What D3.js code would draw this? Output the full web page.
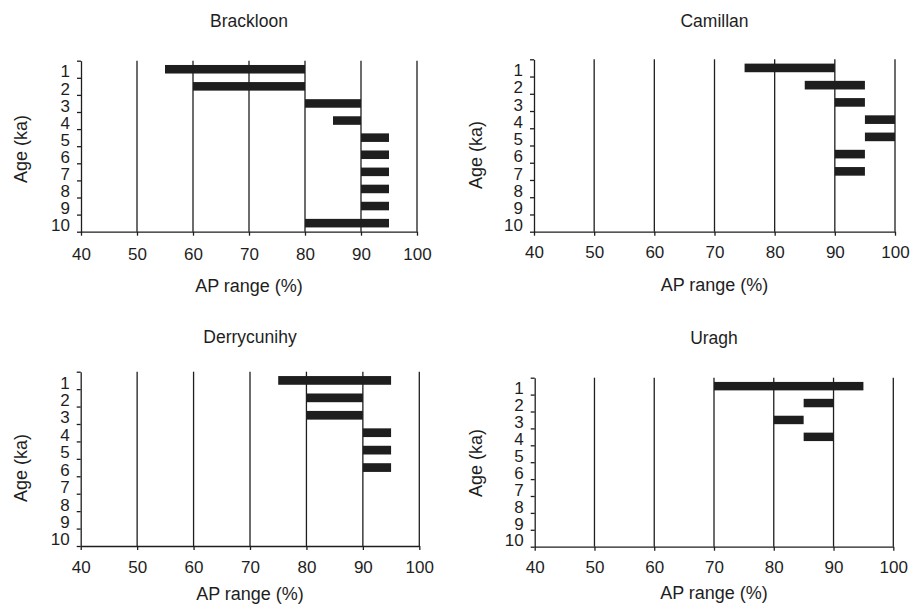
<!DOCTYPE html>
<html>
<head>
<meta charset="utf-8">
<script src="https://cdn.jsdelivr.net/npm/d3@7"></script>
<style>
  body { margin: 0; background: #fff; }
  svg { display: block; font-family: "Liberation Sans", Arial, sans-serif; }
</style>
</head>
<body>
<svg id="chart" width="912" height="606"></svg>
<script>
var width = 912,
    height = 606;

// tick labels
var ages = [1, 2, 3, 4, 5, 6, 7, 8, 9, 10];
var xTicks = [40, 50, 60, 70, 80, 90, 100];
var sites = ['Brackloon', 'Camillan', 'Derrycunihy', 'Uragh'];

// AP range (%) per age, low and high end (null = no bar)
var brackloonLow  = [55, 60, 80, 85, 90, 90, 90, 90, 90, 80];
var brackloonHigh = [80, 80, 90, 90, 95, 95, 95, 95, 95, 95];
var camillanLow   = [75, 85, 90, 95, 95, 90, 90, null, null, null];
var camillanHigh  = [90, 95, 95, 100, 100, 95, 95, null, null, null];
var derryLow      = [75, 80, 80, 90, 90, 90, null, null, null, null];
var derryHigh     = [95, 90, 90, 95, 95, 95, null, null, null, null];
var uraghLow      = [70, 85, 80, 85, null, null, null, null, null, null];
var uraghHigh     = [95, 90, 85, 90, null, null, null, null, null, null];

var lows = [brackloonLow, camillanLow, derryLow, uraghLow];
var highs = [brackloonHigh, camillanHigh, derryHigh, uraghHigh];

// panel placement
var panels = [
    { left: 81, right: 417, top: 60.7, bottom: 231.7, titleY: 26.7, labY: 260.5, xTitleY: 291.5, yTitleX: 27, yTitleY: 149 },
    { left: 534, right: 895, top: 59.3, bottom: 231.7, titleY: 26.7, labY: 258.3, xTitleY: 290.7, yTitleX: 482, yTitleY: 155 },
    { left: 80.7, right: 419.3, top: 371.7, bottom: 546, titleY: 343.3, labY: 572.7, xTitleY: 600, yTitleX: 27, yTitleY: 468 },
    { left: 534.7, right: 893.3, top: 377.7, bottom: 546.7, titleY: 344, labY: 572.7, xTitleY: 598.5, yTitleX: 482, yTitleY: 463 }
];

var ink = '#1e1e1e';
var svg = d3.select('#chart');

panels.forEach(function (p, i) {
    var g = svg.append('g');

    var x = d3.scaleLinear().domain([40, 100]).range([p.left, p.right]);
    var y = d3.scaleLinear().domain([0.5, 10.5]).range([p.top, p.bottom]);

    // vertical grid lines
    g.selectAll('line.grid')
        .data(xTicks.slice(1))
        .enter()
        .append('line')
        .attr('class', 'grid')
        .attr('x1', d => x(d))
        .attr('x2', d => x(d))
        .attr('y1', p.top)
        .attr('y2', p.bottom)
        .attr('stroke', ink)
        .attr('stroke-width', 1.3);

    // bars
    var rows = ages.map(function (a, k) {
        return { age: a, lo: lows[i][k], hi: highs[i][k] };
    }).filter(d => d.lo != null);

    g.selectAll('rect')
        .data(rows)
        .enter()
        .append('rect')
        .attr('x', d => x(d.lo))
        .attr('width', d => x(d.hi) - x(d.lo))
        .attr('y', d => y(d.age - 0.25))
        .attr('height', d => y(d.age + 0.25) - y(d.age - 0.25))
        .attr('fill', ink);

    // x axis
    var xAxis = g.append('g')
        .attr('transform', 'translate(0,' + p.bottom + ')')
        .call(d3.axisBottom(x).tickValues(xTicks).tickSize(4).tickSizeOuter(0));
    xAxis.select('.domain').attr('stroke', ink).attr('stroke-width', 1.3);
    xAxis.selectAll('.tick line').attr('stroke', ink).attr('stroke-width', 1.3);
    xAxis.selectAll('.tick text')
        .attr('y', p.labY - p.bottom)
        .attr('dy', null)
        .attr('font-size', 17)
        .attr('font-family', null)
        .attr('fill', ink);

    // y axis: ticks on band edges
    var yAxis = g.append('g')
        .attr('transform', 'translate(' + p.left + ',0)')
        .call(d3.axisLeft(y).tickValues(d3.range(0.5, 11, 1)).tickSize(4).tickSizeOuter(0).tickFormat(''));
    yAxis.select('.domain').attr('stroke', ink).attr('stroke-width', 1.3);
    yAxis.selectAll('.tick line').attr('stroke', ink).attr('stroke-width', 1.3);

    // y labels in the band centres
    var yLab = g.append('g')
        .attr('transform', 'translate(' + p.left + ',0)')
        .call(d3.axisLeft(y).tickValues(ages).tickSize(0).tickPadding(11));
    yLab.select('.domain').remove();
    yLab.selectAll('.tick text')
        .attr('dy', '0.45em')
        .attr('font-size', 17)
        .attr('font-family', null)
        .attr('fill', ink);

    // titles
    g.append('text')
        .attr('x', (p.left + p.right) / 2)
        .attr('y', p.titleY)
        .attr('text-anchor', 'middle')
        .attr('font-size', 17.5)
        .attr('fill', ink)
        .text(sites[i]);

    g.append('text')
        .attr('x', (p.left + p.right) / 2)
        .attr('y', p.xTitleY)
        .attr('text-anchor', 'middle')
        .attr('font-size', 18)
        .attr('fill', ink)
        .text('AP range (%)');

    g.append('text')
        .attr('transform', 'translate(' + p.yTitleX + ',' + p.yTitleY + ') rotate(-90)')
        .attr('text-anchor', 'middle')
        .attr('font-size', 18)
        .attr('fill', ink)
        .text('Age (ka)');
});
</script>
</body>
</html>
